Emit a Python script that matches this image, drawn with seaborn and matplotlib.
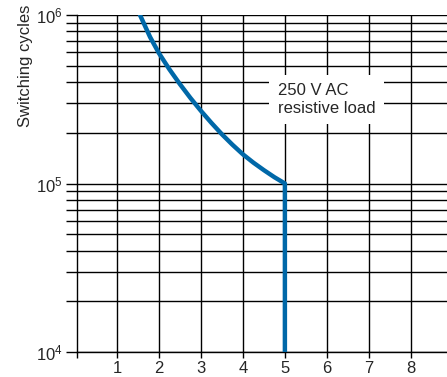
import matplotlib

matplotlib.use("Agg")
import matplotlib.pyplot as plt
import numpy as np
import pandas as pd
import seaborn as sns
from matplotlib.ticker import FixedLocator, LogFormatterMathtext, LogLocator, NullFormatter

# curve (current in A vs. switching cycles)
current = [1.55, 1.79, 2.0, 2.25, 2.5, 2.75, 3.0, 3.25, 3.5, 3.75, 4.0, 4.25, 4.5, 4.75, 5.0, 5.0]
cycles = [1.0e6, 7.4e5, 5.94e5, 4.76e5, 3.89e5, 3.22e5, 2.70e5, 2.29e5, 1.96e5,
          1.70e5, 1.49e5, 1.33e5, 1.20e5, 1.09e5, 1.0e5, 1.0e4]
x_ticks = [1, 2, 3, 4, 5, 6, 7, 8]
note = "250 V AC\nresistive load"

curve = pd.DataFrame({"current": current, "cycles": cycles})

sns.set_style("white")
plt.rcParams["font.family"] = ["Liberation Sans", "DejaVu Sans"]

fig = plt.figure(figsize=(4.47, 3.77), dpi=100)
ax = fig.add_axes([77 / 447, 25 / 377, 370 / 447, 337 / 377])

ax.set_yscale("log")
ax.set_xlim(0.05, 8.86)
ax.set_ylim(1e4, 1e6)

# grid
ax.set_xticks(x_ticks)
ax.xaxis.set_minor_locator(FixedLocator([0.05]))
ax.yaxis.set_major_locator(LogLocator(base=10, numticks=10))
ax.yaxis.set_minor_locator(LogLocator(base=10, subs=np.arange(2, 10), numticks=20))
ax.yaxis.set_major_formatter(LogFormatterMathtext())
ax.yaxis.set_minor_formatter(NullFormatter())
ax.grid(True, which="major", axis="both", color="black", linewidth=1.0)
ax.grid(True, which="minor", axis="y", color="black", linewidth=1.0)

sns.lineplot(
    data=curve, x="current", y="cycles", sort=False, estimator=None,
    color="#0068a8", linewidth=3.2, ax=ax, zorder=5,
)

ax.text(
    4.83, 3.16e5, note, ha="left", va="center", fontsize=12, linespacing=1.2,
    zorder=6, bbox=dict(boxstyle="square,pad=0.5", facecolor="white", edgecolor="none"),
)

ax.set_xlabel("")
ax.set_ylabel("Switching cycles", fontsize=12)
ax.yaxis.set_label_coords(-0.12, 0.85)

for side in ["top", "right"]:
    ax.spines[side].set_visible(False)
for side in ["left", "bottom"]:
    ax.spines[side].set_color("black")
    ax.spines[side].set_linewidth(1.0)

ax.tick_params(axis="x", which="both", direction="out", length=4.3, width=1.0, color="black",
               labelsize=12, pad=2.5, bottom=True)
ax.tick_params(axis="y", which="both", direction="out", length=8, width=1.0, color="black",
               labelsize=12, pad=2, left=True)

fig.savefig("out.png", dpi=100)
plt.close(fig)
